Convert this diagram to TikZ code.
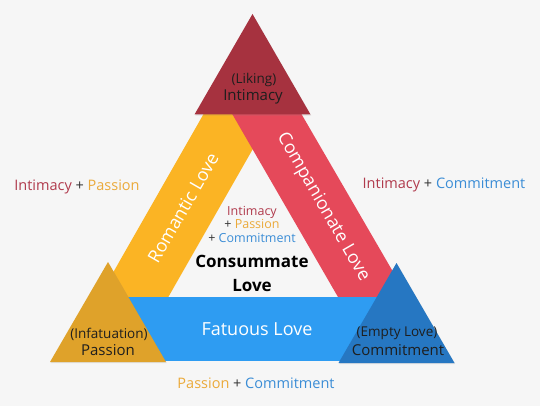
\documentclass[tikz,border=0pt]{standalone}
\usepackage{fontspec}
\setmainfont{Open Sans}
\usetikzlibrary{shadows}
\definecolor{bg}{HTML}{F6F6F6}
\definecolor{topred}{HTML}{A6323F}
\definecolor{bandred}{HTML}{E5495A}
\definecolor{bandyel}{HTML}{FBB424}
\definecolor{lefttri}{HTML}{DFA22A}
\definecolor{bandblue}{HTML}{2E9CF2}
\definecolor{righttri}{HTML}{2677C2}
\definecolor{cInt}{HTML}{B03A4C}
\definecolor{cPas}{HTML}{EBAA3A}
\definecolor{cCom}{HTML}{3B8DD6}
\definecolor{cPlus}{HTML}{333333}
\definecolor{dark}{HTML}{1E1E1E}
\begin{document}
\begin{tikzpicture}[x=1pt,y=-1pt,
  tri/.style={draw=none, drop shadow={opacity=0.18, shadow xshift=0.8pt, shadow yshift=-1.2pt}},
  bandtext/.style={text=white, font=\fontsize{18}{20}\selectfont, inner sep=0pt},
  tritext/.style={text=dark, align=center, inner sep=0pt},
  sumtext/.style={font=\fontsize{14.5}{17}\selectfont, inner sep=0pt},
  midtext/.style={font=\fontsize{12.5}{13.5}\selectfont, align=center, inner sep=0pt},
  bigtext/.style={font=\bfseries\fontsize{17}{24}\selectfont, align=center, inner sep=0pt, text=black}]
\fill[bg] (0,0) rectangle (540,406);
\useasboundingbox (0,0) rectangle (540,406);
% Romantic band (yellow)
\fill[bandyel] (203.6,114) -- (272.8,114) -- (160.9,310) -- (91.7,310) -- cycle;
% Companionate band (red)
\fill[bandred] (232.2,114) -- (301.4,114) -- (415.2,310) -- (345.5,310) -- cycle;
% Fatuous band (blue)
\fill[bandblue] (120,297) rectangle (390,361);
% corner triangles
\fill[topred, tri] (252.5,14) -- (310.5,114.5) -- (194.5,114.5) -- cycle;
\fill[lefttri, tri] (108,262) -- (166,362) -- (50,362) -- cycle;
\fill[righttri, tri] (396.5,263) -- (454.5,363) -- (338.5,363) -- cycle;
% corner texts
\node[tritext, font=\fontsize{13.5}{15}\selectfont] (liking) at (254,80) {(Liking)};
\node[tritext, font=\fontsize{15}{17}\selectfont] (intimacy) at (253,97) {Intimacy};
\node[tritext, font=\fontsize{13.5}{15}\selectfont] (infat) at (109,334) {(Infatuation)};
\node[tritext, font=\fontsize{15}{17}\selectfont] (passion) at (108,350) {Passion};
\node[tritext, font=\fontsize{13.5}{15}\selectfont] (empty) at (397,333) {(Empty Love)};
\node[tritext, font=\fontsize{15}{17}\selectfont] (commit) at (398,350) {Commitment};
% band texts
\node[bandtext, rotate=60] (romantic) at (183,208) {Romantic Love};
\node[bandtext, rotate=-60] (compan) at (323,207) {Companionate Love};
\node[bandtext] (fatuous) at (257,329) {Fatuous Love};
% side sums
\node[sumtext] (sumleft) at (77,187) {\textcolor{cInt}{Intimacy} \textcolor{cPlus}{+} \textcolor{cPas}{Passion}};
\node[sumtext] (sumright) at (444,185) {\textcolor{cInt}{Intimacy} \textcolor{cPlus}{+} \textcolor{cCom}{Commitment}};
\node[sumtext] (sumbottom) at (256,383) {\textcolor{cPas}{Passion} \textcolor{cPlus}{+} \textcolor{cCom}{Commitment}};
% centre
\node[midtext] (midsum) at (252,224) {\textcolor{cInt}{Intimacy}\\ \textcolor{cPlus}{+} \textcolor{cPas}{Passion}\\ \textcolor{cPlus}{+} \textcolor{cCom}{Commitment}};
\node[bigtext] (consum) at (252,273) {Consummate\\Love};
\end{tikzpicture}
\end{document}
